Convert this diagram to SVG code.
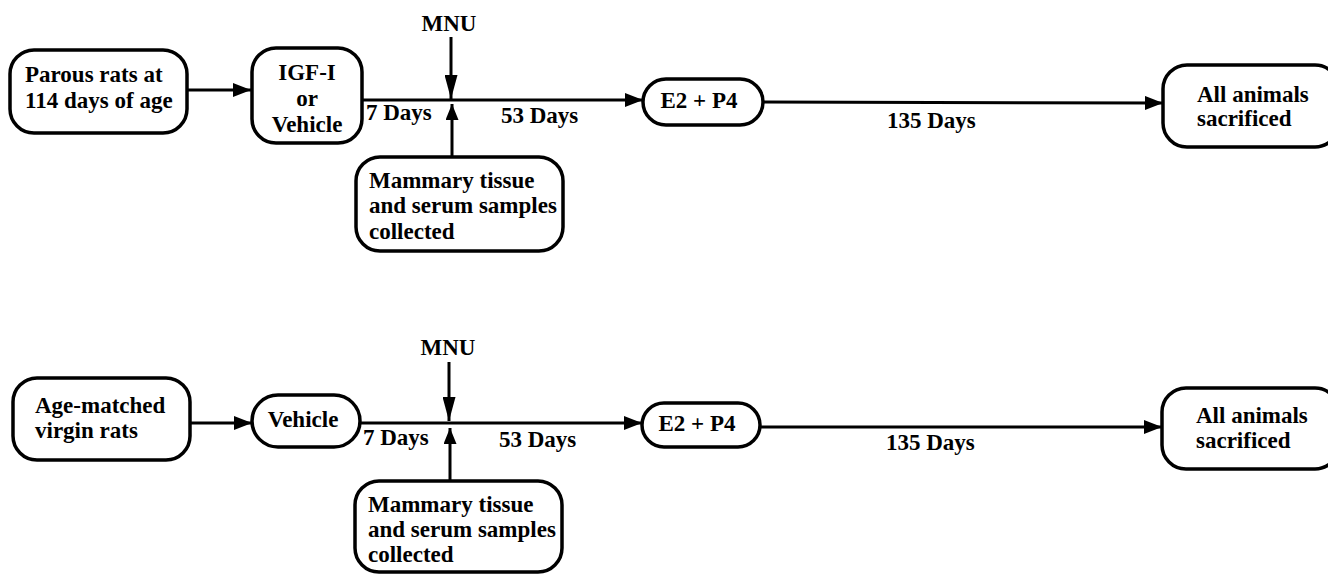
<svg xmlns="http://www.w3.org/2000/svg" width="1328" height="575" viewBox="0 0 1328 575">
  <style>
    .box { fill: #ffffff; stroke: #000000; stroke-width: 3.5; }
    .ln { stroke: #000000; stroke-width: 3; fill: none; }
    text { font-family: "Liberation Serif", "Times New Roman", serif; font-weight: bold; font-size: 23px; fill: #000000; }
    .c { text-anchor: middle; }
  </style>
  <defs>
    <marker id="arr" viewBox="0 0 18 14" refX="18" refY="7" markerWidth="18" markerHeight="14" markerUnits="userSpaceOnUse" orient="auto">
      <path d="M0,0 L18,7 L0,14 Z" fill="#000000"/>
    </marker>
    <marker id="arrLong" viewBox="0 0 24 13" refX="24" refY="6.5" markerWidth="24" markerHeight="13" markerUnits="userSpaceOnUse" orient="auto">
      <path d="M0,0 L24,6.5 L0,13 Z" fill="#000000"/>
    </marker>
    <marker id="arrShort" viewBox="0 0 16 13" refX="16" refY="6.5" markerWidth="16" markerHeight="13" markerUnits="userSpaceOnUse" orient="auto">
      <path d="M0,0 L16,6.5 L0,13 Z" fill="#000000"/>
    </marker>
  </defs>

  <g id="connectors">
    <!-- top row -->
    <line class="ln" x1="187" y1="90" x2="251" y2="90" marker-end="url(#arr)"/>
    <line class="ln" x1="362" y1="100" x2="643" y2="100" marker-end="url(#arr)"/>
    <line class="ln" x1="763" y1="102" x2="1163" y2="103" marker-end="url(#arr)"/>
    <line class="ln" x1="451" y1="37" x2="451" y2="99" marker-end="url(#arrLong)"/>
    <line class="ln" x1="452" y1="157" x2="452" y2="104" marker-end="url(#arrShort)"/>
    <!-- bottom row -->
    <line class="ln" x1="190" y1="423" x2="252" y2="423" marker-end="url(#arr)"/>
    <line class="ln" x1="360" y1="423" x2="642" y2="423" marker-end="url(#arr)"/>
    <line class="ln" x1="760" y1="427" x2="1162" y2="427" marker-end="url(#arr)"/>
    <line class="ln" x1="449" y1="362" x2="449" y2="421" marker-end="url(#arrLong)"/>
    <line class="ln" x1="450" y1="481" x2="450" y2="428" marker-end="url(#arrShort)"/>
  </g>

  <!-- top row nodes -->
  <g id="parous">
    <rect class="box" x="10" y="50" width="177" height="83" rx="24"/>
    <text x="25" y="82">Parous rats at</text>
    <text x="25" y="108">114 days of age</text>
  </g>
  <g id="igf">
    <rect class="box" x="252" y="48" width="110" height="95" rx="24"/>
    <text class="c" x="307" y="80">IGF-I</text>
    <text class="c" x="307" y="106">or</text>
    <text class="c" x="307" y="132">Vehicle</text>
  </g>
  <g id="mnu1">
    <text class="c" x="449" y="31">MNU</text>
  </g>
  <g id="mammary1">
    <rect class="box" x="356" y="157" width="207" height="94" rx="24"/>
    <text x="369" y="188">Mammary tissue</text>
    <text x="369" y="213">and serum samples</text>
    <text x="369" y="239">collected</text>
  </g>
  <g id="days7a"><text x="366" y="120">7 Days</text></g>
  <g id="days53a"><text x="501" y="123">53 Days</text></g>
  <g id="e2p4a">
    <rect class="box" x="643" y="79" width="120" height="46" rx="23"/>
    <text class="c" x="699" y="108">E2 + P4</text>
  </g>
  <g id="days135a"><text x="887" y="128">135 Days</text></g>
  <g id="sacrificed1">
    <rect class="box" x="1163" y="65" width="176" height="82" rx="24"/>
    <text x="1197" y="102">All animals</text>
    <text x="1197" y="126">sacrificed</text>
  </g>

  <!-- bottom row nodes -->
  <g id="virgin">
    <rect class="box" x="13" y="378" width="177" height="82" rx="24"/>
    <text x="35" y="413">Age-matched</text>
    <text x="35" y="438">virgin rats</text>
  </g>
  <g id="vehicle">
    <rect class="box" x="252" y="395" width="108" height="52" rx="26"/>
    <text class="c" x="303" y="427">Vehicle</text>
  </g>
  <g id="mnu2">
    <text class="c" x="448" y="355">MNU</text>
  </g>
  <g id="mammary2">
    <rect class="box" x="355" y="481" width="207" height="91" rx="24"/>
    <text x="368" y="512">Mammary tissue</text>
    <text x="368" y="537">and serum samples</text>
    <text x="368" y="562">collected</text>
  </g>
  <g id="days7b"><text x="363" y="445">7 Days</text></g>
  <g id="days53b"><text x="499" y="447">53 Days</text></g>
  <g id="e2p4b">
    <rect class="box" x="642" y="403" width="118" height="44" rx="22"/>
    <text class="c" x="697" y="431">E2 + P4</text>
  </g>
  <g id="days135b"><text x="886" y="450">135 Days</text></g>
  <g id="sacrificed2">
    <rect class="box" x="1162" y="388" width="177" height="81" rx="24"/>
    <text x="1196" y="423">All animals</text>
    <text x="1196" y="448">sacrificed</text>
  </g>
</svg>
